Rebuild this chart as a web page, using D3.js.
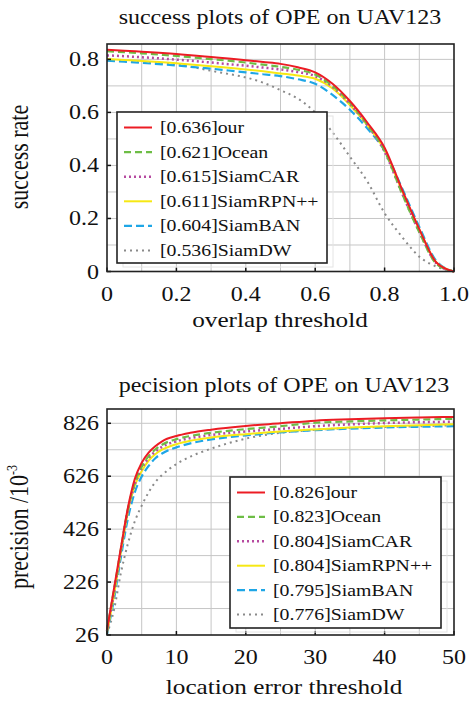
<!DOCTYPE html>
<meta charset="utf-8">
<script src="https://d3js.org/d3.v7.min.js"></script>
<body style="margin:0;background:#fff">
<svg width="469" height="702"></svg>
<script>
    // ---- data ----
    var names = ["our", "Ocean", "SiamCAR", "SiamRPN++", "SiamBAN", "SiamDW"];
    var successScores = ["0.636", "0.621", "0.615", "0.611", "0.604", "0.536"];
    var precisionScores = ["0.826", "0.823", "0.804", "0.804", "0.795", "0.776"];

    var overlapThr = [0, 0.05, 0.1, 0.15, 0.2, 0.25, 0.3, 0.35, 0.4, 0.45, 0.5, 0.55, 0.6, 0.65, 0.7, 0.75, 0.8, 0.85, 0.9, 0.95, 1.0];
    var succOur     = [0.836, 0.833, 0.829, 0.825, 0.820, 0.815, 0.809, 0.803, 0.797, 0.790, 0.783, 0.770, 0.751, 0.708, 0.643, 0.562, 0.467, 0.310, 0.160, 0.033, 0];
    var succOcean   = [0.831, 0.827, 0.823, 0.818, 0.813, 0.807, 0.801, 0.795, 0.788, 0.780, 0.772, 0.761, 0.743, 0.700, 0.636, 0.555, 0.455, 0.295, 0.148, 0.028, 0];
    var succCAR     = [0.815, 0.812, 0.808, 0.804, 0.799, 0.794, 0.788, 0.782, 0.776, 0.769, 0.762, 0.752, 0.737, 0.696, 0.632, 0.552, 0.452, 0.296, 0.150, 0.030, 0];
    var succRPN     = [0.801, 0.798, 0.794, 0.790, 0.785, 0.780, 0.774, 0.768, 0.762, 0.755, 0.747, 0.739, 0.727, 0.690, 0.628, 0.552, 0.458, 0.305, 0.158, 0.033, 0];
    var succBAN     = [0.795, 0.791, 0.787, 0.782, 0.777, 0.771, 0.765, 0.758, 0.751, 0.744, 0.737, 0.725, 0.708, 0.666, 0.610, 0.540, 0.455, 0.315, 0.168, 0.038, 0];
    var succDW      = [0.797, 0.793, 0.789, 0.785, 0.781, 0.770, 0.757, 0.745, 0.732, 0.712, 0.684, 0.652, 0.600, 0.525, 0.433, 0.340, 0.220, 0.131, 0.056, 0.018, 0];

    var locThr = [0, 1, 2, 3, 4, 5, 6, 7, 8, 10, 12, 15, 20, 25, 30, 35, 40, 45, 50];
    var precOur   = [45, 200, 355, 505, 615, 677, 715, 740, 759, 778, 790, 802, 816, 826, 836, 841, 845, 848, 850];
    var precOcean = [42, 195, 350, 500, 600, 662, 702, 728, 746, 766, 778, 790, 804, 815, 828, 833, 837, 840, 843];
    var precCAR   = [40, 185, 345, 495, 595, 655, 695, 720, 738, 758, 770, 782, 795, 805, 815, 822, 827, 830, 832];
    var precRPN   = [35, 175, 340, 490, 590, 645, 685, 710, 727, 747, 760, 772, 785, 795, 803, 810, 815, 819, 822];
    var precBAN   = [30, 160, 320, 465, 565, 625, 665, 695, 713, 735, 750, 765, 780, 792, 800, 806, 810, 813, 815];
    var precDW    = [30, 120, 260, 370, 455, 515, 565, 605, 632, 672, 700, 730, 768, 790, 801, 808, 812, 815, 818];

    var succTicksY = [0, 0.2, 0.4, 0.6, 0.8];
    var succTicksX = [0, 0.2, 0.4, 0.6, 0.8, 1.0];
    var precTicksY = [26, 226, 426, 626, 826];
    var precTicksX = [0, 10, 20, 30, 40, 50];

    // ---- look ----
    var styles = [
        {color: "#ec1c24", dash: null,  width: 2},
        {color: "#6dbd45", dash: "7,4", width: 2.2},
        {color: "#b64aa0", dash: "2,3", width: 2.5},
        {color: "#f6e814", dash: null,  width: 2},
        {color: "#1ea6e6", dash: "8,4", width: 2.2},
        {color: "#8a8a8a", dash: "2,4", width: 2}
    ];
    var FONT = "'Liberation Serif', 'Times New Roman', serif";
    var SX = 1.2;   // the reference glyphs are a bit wide
    var ink = "#111";

    var svg = d3.select("svg");

    function txt(g, x, y, s, size, anchor) {
        return g.append("text")
            .attr("transform", "translate(" + x + "," + y + ") scale(" + SX + ",1)")
            .attr("text-anchor", anchor || "start")
            .attr("font-family", FONT)
            .attr("font-size", size)
            .attr("fill", ink)
            .text(s);
    }

    function panel(cfg) {
        var g = svg.append("g");
        var x = d3.scaleLinear().domain(cfg.xDomain).range([cfg.left, cfg.right]);
        var y = d3.scaleLinear().domain(cfg.yDomain).range([cfg.bottom, cfg.top]);

        // grid
        g.selectAll("line.gx").data(cfg.gridX).enter().append("line")
            .attr("x1", x).attr("x2", x).attr("y1", cfg.top).attr("y2", cfg.bottom)
            .attr("stroke", "#c6c6c6").attr("stroke-width", 1);
        g.selectAll("line.gy").data(cfg.gridY).enter().append("line")
            .attr("y1", y).attr("y2", y).attr("x1", cfg.left).attr("x2", cfg.right)
            .attr("stroke", "#c6c6c6").attr("stroke-width", 1);

        // curves, last method first so "our" ends on top
        var line = d3.line()
            .x(function(d){ return x(d[0]); })
            .y(function(d){ return y(d[1]); })
            .curve(d3.curveMonotoneX);
        for (var i = cfg.series.length - 1; i >= 0; i--) {
            var pts = cfg.xs.map(function(v, k){ return [v, cfg.series[i][k]]; });
            g.append("path")
                .attr("d", line(pts))
                .attr("fill", "none")
                .attr("stroke", styles[i].color)
                .attr("stroke-width", styles[i].width)
                .attr("stroke-dasharray", styles[i].dash);
        }

        // inner ticks
        g.selectAll("line.tx").data(cfg.ticksX).enter().append("line")
            .attr("x1", x).attr("x2", x).attr("y1", cfg.bottom).attr("y2", cfg.bottom - 4)
            .attr("stroke", "#111").attr("stroke-width", 1.5);
        g.selectAll("line.ty").data(cfg.ticksY).enter().append("line")
            .attr("y1", y).attr("y2", y).attr("x1", cfg.left).attr("x2", cfg.left + 4)
            .attr("stroke", "#111").attr("stroke-width", 1.5);

        // box
        g.append("rect")
            .attr("x", cfg.left).attr("y", cfg.top)
            .attr("width", cfg.right - cfg.left).attr("height", cfg.bottom - cfg.top)
            .attr("fill", "none").attr("stroke", "#222").attr("stroke-width", 1.6);

        // tick labels
        cfg.ticksX.forEach(function(t){ txt(g, x(t), cfg.bottom + 29, cfg.fmtX(t), 20, "middle"); });
        cfg.ticksY.forEach(function(t){ txt(g, cfg.left - 8, y(t) + 7, cfg.fmtY(t), 20, "end"); });

        // titles
        txt(g, cfg.titleX, cfg.top - cfg.titleGap, cfg.title, 20, "middle");
        txt(g, cfg.titleX, cfg.bottom + cfg.xLabelGap, cfg.xLabel, 21, "middle");
        var yl = g.append("text")
            .attr("transform", "translate(28," + cfg.yLabelY + ") scale(" + SX + ",1) rotate(-90)")
            .attr("text-anchor", "middle")
            .attr("font-family", FONT)
            .attr("font-size", 22)
            .attr("fill", ink);
        yl.append("tspan").text(cfg.yLabel);
        if (cfg.yLabelSup) {
            yl.append("tspan").attr("dy", -9).attr("font-size", 12).text(cfg.yLabelSup);
        }

        // legend
        var lg = cfg.legend;
        g.append("rect")
            .attr("x", lg.x + 6).attr("y", lg.y + 4)
            .attr("width", lg.w).attr("height", lg.h)
            .attr("fill", "none").attr("stroke", "#e4e4e4").attr("stroke-width", 1);
        g.append("rect")
            .attr("x", lg.x).attr("y", lg.y)
            .attr("width", lg.w).attr("height", lg.h)
            .attr("fill", "#fff").attr("stroke", "#222").attr("stroke-width", 1.6);
        names.forEach(function(n, i){
            var cy = lg.y + 15.5 + i * lg.step;
            g.append("line")
                .attr("x1", lg.x + 7).attr("x2", lg.x + 35)
                .attr("y1", cy).attr("y2", cy)
                .attr("stroke", styles[i].color)
                .attr("stroke-width", styles[i].width)
                .attr("stroke-dasharray", styles[i].dash);
            txt(g, lg.x + 43, cy + 5.5, "[" + cfg.scores[i] + "]" + n, 16.5, "start");
        });
    }

    panel({
        left: 107, right: 454, top: 44, bottom: 271.5,
        xDomain: [0, 1], yDomain: [0, 0.858],
        gridX: [0.1, 0.2, 0.3, 0.4, 0.5, 0.6, 0.7, 0.8, 0.9],
        gridY: [0.1, 0.2, 0.3, 0.4, 0.5, 0.6, 0.7, 0.8],
        ticksX: succTicksX, ticksY: succTicksY,
        fmtX: function(t){ return t === 0 ? "0" : d3.format(".1f")(t); },
        fmtY: function(t){ return t === 0 ? "0" : d3.format(".1f")(t); },
        xs: overlapThr,
        series: [succOur, succOcean, succCAR, succRPN, succBAN, succDW],
        scores: successScores,
        title: "success plots of OPE on UAV123", titleX: 280, titleGap: 20,
        xLabel: "overlap threshold", xLabelGap: 55,
        yLabel: "success rate", yLabelY: 157,
        legend: {x: 117, y: 112, w: 210, h: 151, step: 24.6}
    });

    panel({
        left: 107, right: 454, top: 409, bottom: 635,
        xDomain: [0, 50], yDomain: [26, 880],
        gridX: [5, 10, 15, 20, 25, 30, 35, 40, 45],
        gridY: [126, 226, 326, 426, 526, 626, 726, 826],
        ticksX: precTicksX, ticksY: precTicksY,
        fmtX: function(t){ return String(t); },
        fmtY: function(t){ return String(t); },
        xs: locThr,
        series: [precOur, precOcean, precCAR, precRPN, precBAN, precDW],
        scores: precisionScores,
        title: "pecision plots of OPE on UAV123", titleX: 284, titleGap: 17,
        xLabel: "location error threshold", xLabelGap: 59,
        yLabel: "precision /10", yLabelSup: "-3", yLabelY: 527,
        legend: {x: 230, y: 477, w: 211, h: 151, step: 24.4}
    });
</script>
</body>
